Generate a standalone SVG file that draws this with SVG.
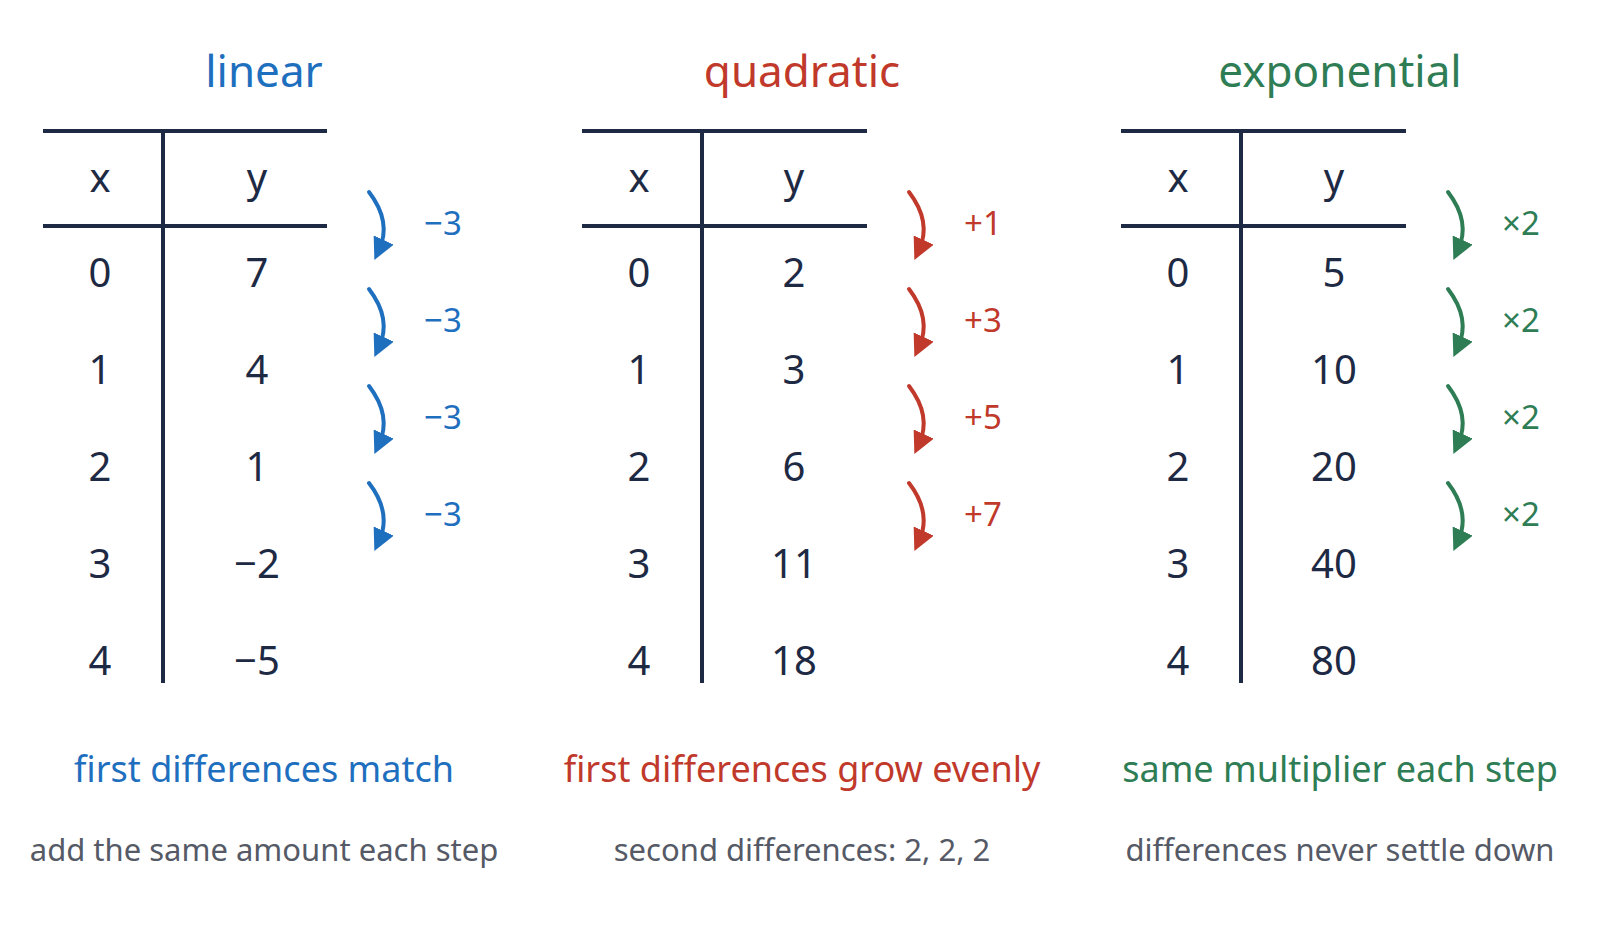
<svg xmlns="http://www.w3.org/2000/svg" width="1613" height="932" viewBox="0 0 1613 932">
<style>
text{font-family:"Noto Sans","Liberation Sans",sans-serif;text-anchor:middle;dominant-baseline:central}
.t{font-size:40px;fill:#1e2a44}
.h{font-size:44px}
.s{font-size:36px}
.c{font-size:31px;fill:#555a66}
.d{font-size:33px}
.ln{stroke:#1e2a44;stroke-width:4;fill:none}
.b{fill:#1f6fbf}.r{fill:#c0392b}.g{fill:#2e7d55}
.ab{stroke:#1f6fbf;stroke-width:4;fill:none;stroke-linecap:round}
.ar{stroke:#c0392b;stroke-width:4;fill:none;stroke-linecap:round}
.ag{stroke:#2e7d55;stroke-width:4;fill:none;stroke-linecap:round}
</style>
<defs>
<marker id="mb" viewBox="0 0 10 10" refX="5" refY="5" markerWidth="5.5" markerHeight="5.5" orient="auto"><path d="M0,0L10,5L0,10z" fill="#1f6fbf"/></marker>
<marker id="mr" viewBox="0 0 10 10" refX="5" refY="5" markerWidth="5.5" markerHeight="5.5" orient="auto"><path d="M0,0L10,5L0,10z" fill="#c0392b"/></marker>
<marker id="mg" viewBox="0 0 10 10" refX="5" refY="5" markerWidth="5.5" markerHeight="5.5" orient="auto"><path d="M0,0L10,5L0,10z" fill="#2e7d55"/></marker>
</defs>
<g id="linear">
<text class="h b" x="264" y="70">linear</text>
<path class="ln" d="M43 131H327M43 226H327M163 131V683"/>
<text class="t" x="100" y="176">x</text><text class="t" x="257" y="176">y</text>
<text class="t" x="100" y="271">0</text><text class="t" x="257" y="271">7</text>
<text class="t" x="100" y="368">1</text><text class="t" x="257" y="368">4</text>
<text class="t" x="100" y="465">2</text><text class="t" x="257" y="465">1</text>
<text class="t" x="100" y="562">3</text><text class="t" x="257" y="562">−2</text>
<text class="t" x="100" y="659">4</text><text class="t" x="257" y="659">−5</text>
<text class="s b" x="264" y="768">first differences match</text>
<text class="c" x="264" y="849">add the same amount each step</text>
</g>
<g id="quadratic">
<text class="h r" x="802" y="70">quadratic</text>
<path class="ln" d="M582 131H867M582 226H867M702 131V683"/>
<text class="t" x="639" y="176">x</text><text class="t" x="794" y="176">y</text>
<text class="t" x="639" y="271">0</text><text class="t" x="794" y="271">2</text>
<text class="t" x="639" y="368">1</text><text class="t" x="794" y="368">3</text>
<text class="t" x="639" y="465">2</text><text class="t" x="794" y="465">6</text>
<text class="t" x="639" y="562">3</text><text class="t" x="794" y="562">11</text>
<text class="t" x="639" y="659">4</text><text class="t" x="794" y="659">18</text>
<text class="s r" x="802" y="768">first differences grow evenly</text>
<text class="c" x="802" y="849">second differences: 2, 2, 2</text>
</g>
<g id="exponential">
<text class="h g" x="1340" y="70">exponential</text>
<path class="ln" d="M1121 131H1406M1121 226H1406M1241 131V683"/>
<text class="t" x="1178" y="176">x</text><text class="t" x="1334" y="176">y</text>
<text class="t" x="1178" y="271">0</text><text class="t" x="1334" y="271">5</text>
<text class="t" x="1178" y="368">1</text><text class="t" x="1334" y="368">10</text>
<text class="t" x="1178" y="465">2</text><text class="t" x="1334" y="465">20</text>
<text class="t" x="1178" y="562">3</text><text class="t" x="1334" y="562">40</text>
<text class="t" x="1178" y="659">4</text><text class="t" x="1334" y="659">80</text>
<text class="s g" x="1340" y="768">same multiplier each step</text>
<text class="c" x="1340" y="849">differences never settle down</text>
</g>
<g id="connectors">
<path class="ab" marker-end="url(#mb)" d="M369 192Q392 222 379 250"/>
<path class="ab" marker-end="url(#mb)" d="M369 289Q392 319 379 347"/>
<path class="ab" marker-end="url(#mb)" d="M369 386Q392 416 379 444"/>
<path class="ab" marker-end="url(#mb)" d="M369 483Q392 513 379 541"/>
<path class="ar" marker-end="url(#mr)" d="M909 192Q932 222 919 250"/>
<path class="ar" marker-end="url(#mr)" d="M909 289Q932 319 919 347"/>
<path class="ar" marker-end="url(#mr)" d="M909 386Q932 416 919 444"/>
<path class="ar" marker-end="url(#mr)" d="M909 483Q932 513 919 541"/>
<path class="ag" marker-end="url(#mg)" d="M1448 192Q1471 222 1458 250"/>
<path class="ag" marker-end="url(#mg)" d="M1448 289Q1471 319 1458 347"/>
<path class="ag" marker-end="url(#mg)" d="M1448 386Q1471 416 1458 444"/>
<path class="ag" marker-end="url(#mg)" d="M1448 483Q1471 513 1458 541"/>
</g>
<g id="labels">
<text class="d b" x="443" y="222">−3</text><text class="d b" x="443" y="319">−3</text><text class="d b" x="443" y="416">−3</text><text class="d b" x="443" y="513">−3</text>
<text class="d r" x="983" y="222">+1</text><text class="d r" x="983" y="319">+3</text><text class="d r" x="983" y="416">+5</text><text class="d r" x="983" y="513">+7</text>
<text class="d g" x="1521" y="222">×2</text><text class="d g" x="1521" y="319">×2</text><text class="d g" x="1521" y="416">×2</text><text class="d g" x="1521" y="513">×2</text>
</g>
</svg>
